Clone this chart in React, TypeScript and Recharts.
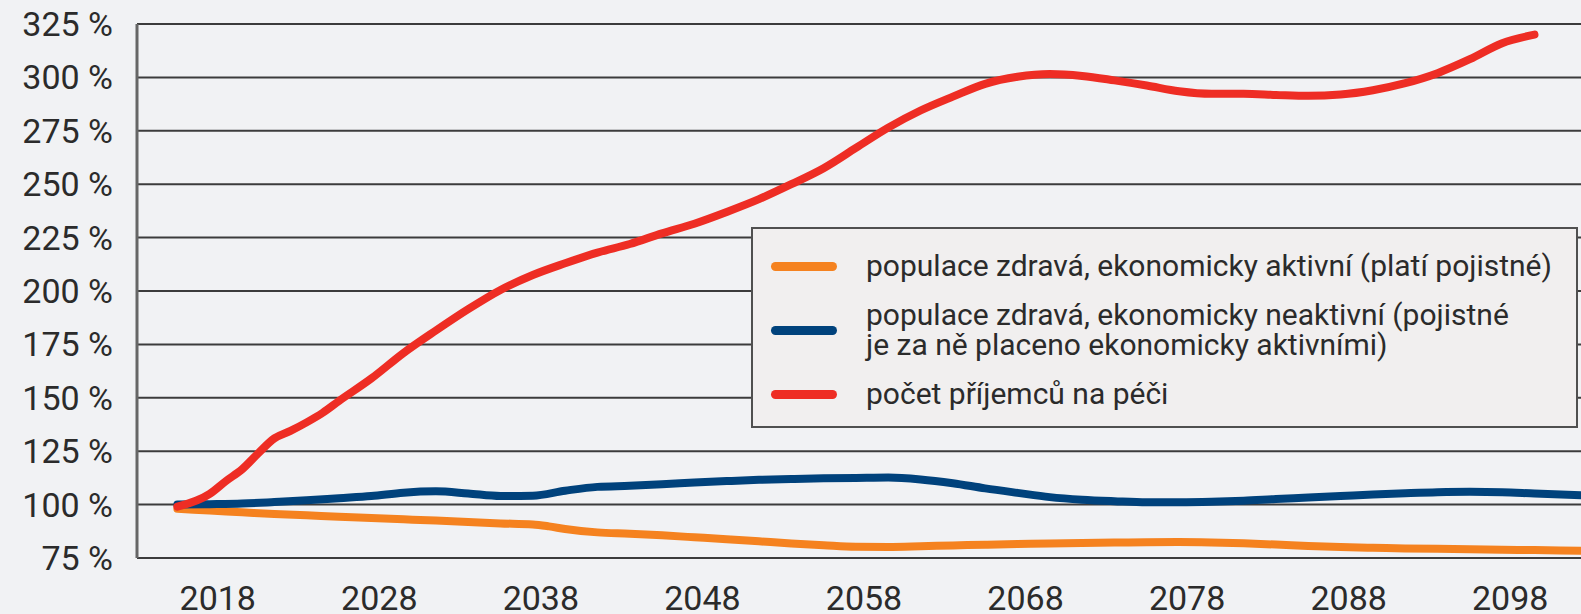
import React from 'react';
import { LineChart, Line, XAxis, YAxis, CartesianGrid, Legend } from 'recharts';

// ---- data ----
const redYears = [2016, 2018, 2019, 2020, 2021, 2022, 2023, 2024, 2025, 2026, 2028, 2030, 2032, 2034, 2036, 2038, 2040, 2042, 2044, 2046, 2048, 2050, 2052, 2054, 2056, 2058, 2060, 2062, 2064, 2066, 2068, 2070, 2072, 2074, 2076, 2078, 2080, 2082, 2084, 2086, 2088, 2090, 2092, 2094, 2096, 2098, 2100];
const redValues = [99, 105, 111, 116.5, 124, 131, 134.5, 138.5, 143, 148.5, 159, 171, 181.5, 191.5, 200.5, 207.5, 213, 218, 222, 227, 231.5, 237, 243, 250, 257.5, 267, 276.5, 284.5, 291, 297, 300.3, 301.6, 300.7, 298.6, 296.2, 293.5, 292.3, 292.3, 291.8, 291.4, 292, 294, 297.3, 302, 308.5, 316, 320];

const blueYears = [2016, 2018, 2020, 2022, 2024, 2026, 2028, 2030, 2032, 2034, 2036, 2038, 2040, 2042, 2044, 2046, 2048, 2050, 2052, 2054, 2056, 2058, 2060, 2062, 2064, 2066, 2068, 2070, 2072, 2074, 2076, 2078, 2080, 2082, 2084, 2086, 2088, 2090, 2092, 2094, 2096, 2098, 2100, 2103];
const blueValues = [100, 100.2, 100.5, 101.2, 102, 103, 104, 105.6, 106.2, 105.2, 104, 104.2, 106.5, 108.3, 108.8, 109.5, 110.3, 111, 111.6, 112, 112.3, 112.5, 112.7, 111.8, 110, 107.6, 105.5, 103.5, 102.3, 101.6, 101.1, 101.1, 101.3, 101.8, 102.6, 103.3, 104, 104.7, 105.3, 105.8, 106, 105.8, 105.2, 104.4];

const orangeYears = [2016, 2018, 2020, 2022, 2024, 2026, 2028, 2030, 2032, 2034, 2036, 2038, 2039, 2040, 2042, 2044, 2046, 2048, 2050, 2052, 2054, 2056, 2058, 2060, 2062, 2064, 2066, 2068, 2070, 2072, 2074, 2076, 2078, 2080, 2082, 2084, 2086, 2088, 2090, 2092, 2094, 2096, 2098, 2100, 2103];
const orangeValues = [98, 97.2, 96.4, 95.6, 95, 94.3, 93.7, 93.1, 92.5, 91.8, 91.2, 90.7, 89.8, 88.6, 87, 86.4, 85.6, 84.7, 83.8, 82.8, 81.8, 81, 80.3, 80.2, 80.5, 80.9, 81.2, 81.5, 81.8, 82, 82.2, 82.4, 82.5, 82.3, 81.9, 81.3, 80.6, 80.1, 79.8, 79.5, 79.3, 79.1, 78.9, 78.7, 78.4];

const xBandEdges = [2013.5, 2023.5, 2033.5, 2043.5, 2053.5, 2063.5, 2073.5, 2083.5, 2093.5, 2103.5];
const xLabels = ['2018', '2028', '2038', '2048', '2058', '2068', '2078', '2088', '2098'];
const yTicks = [75, 100, 125, 150, 175, 200, 225, 250, 275, 300, 325];

const seriesNames = [
  'populace zdravá, ekonomicky aktivní (platí pojistné)',
  'populace zdravá, ekonomicky neaktivní (pojistné\nje za ně placeno ekonomicky aktivními)',
  'počet příjemců na péči',
];
const seriesColors = ['#f5821f', '#00427c', '#ee2d24'];

const toRows = (years: number[], values: number[]) => years.map((year, i) => ({ year, v: values[i] }));
const orangeData = toRows(orangeYears, orangeValues);
const blueData = toRows(blueYears, blueValues);
const redData = toRows(redYears, redValues);
const labelTicks = xLabels.map((_, i) => (xBandEdges[i] + xBandEdges[i + 1]) / 2);

const FONT = 'Roboto, "Liberation Sans", sans-serif';
const TEXT = '#2b2b2b';

const LegendBox = () => (
  <div
    style={{
      boxSizing: 'border-box',
      width: 827,
      height: 201,
      border: '2px solid #505050',
      background: '#f1efef',
      paddingTop: 22,
      fontFamily: FONT,
      fontSize: 30,
      lineHeight: '30px',
      color: TEXT,
      textAlign: 'left',
    }}
  >
    {seriesNames.map((name, i) => (
      <div
        key={name}
        style={{
          display: 'flex',
          alignItems: 'center',
          marginBottom: 19,
        }}
      >
        <div
          style={{
            width: 66,
            height: 9,
            borderRadius: 5,
            background: seriesColors[i],
            marginLeft: 18,
            marginRight: 29,
            flex: 'none',
          }}
        />
        <div style={{ whiteSpace: 'pre' }}>{name}</div>
      </div>
    ))}
  </div>
);

export default function App() {
  return (
    <div
      style={{
        position: 'absolute',
        left: 0,
        top: 0,
        width: 1581,
        height: 614,
        overflow: 'hidden',
        background: '#f1f2f4',
        fontFamily: FONT,
      }}
    >
      <LineChart width={1600} height={614} margin={{ top: 24, right: 9, left: 0, bottom: 0 }}>
        <CartesianGrid vertical={false} stroke="#3c3c3c" strokeWidth={2} />
        <XAxis
          xAxisId="grid"
          type="number"
          dataKey="year"
          domain={[2013.5, 2103.5]}
          ticks={xBandEdges}
          allowDataOverflow
          height={14}
          tick={false}
          tickSize={13}
          tickLine={{ stroke: '#555', strokeWidth: 2 }}
          axisLine={{ stroke: '#3c3c3c', strokeWidth: 2 }}
        />
        <XAxis
          xAxisId="labels"
          type="number"
          dataKey="year"
          domain={[2013.5, 2103.5]}
          ticks={labelTicks}
          allowDataOverflow
          height={42}
          axisLine={false}
          tickLine={false}
          tickSize={0}
          tickMargin={14}
          interval={0}
          tickFormatter={(v: number, i: number) => xLabels[i]}
          tick={{ fill: TEXT, fontSize: 34, fontFamily: FONT }}
        />
        <YAxis
          type="number"
          domain={[75, 325]}
          ticks={yTicks}
          width={137}
          interval={0}
          tickLine={false}
          tickSize={0}
          tickMargin={24}
          axisLine={{ stroke: '#666', strokeWidth: 3 }}
          tickFormatter={(v: number) => `${v} %`}
          tick={{ fill: TEXT, fontSize: 34, fontFamily: FONT }}
        />
        <Legend
          layout="vertical"
          verticalAlign="middle"
          align="center"
          content={() => <LegendBox />}
          wrapperStyle={{ left: 751, top: 227, width: 827, height: 201 }}
        />
        <Line
          xAxisId="grid"
          data={orangeData}
          dataKey="v"
          name={seriesNames[0]}
          type="monotone"
          stroke={seriesColors[0]}
          strokeWidth={8}
          strokeLinecap="round"
          dot={false}
          isAnimationActive={false}
        />
        <Line
          xAxisId="grid"
          data={blueData}
          dataKey="v"
          name={seriesNames[1]}
          type="monotone"
          stroke={seriesColors[1]}
          strokeWidth={8}
          strokeLinecap="round"
          dot={false}
          isAnimationActive={false}
        />
        <Line
          xAxisId="grid"
          data={redData}
          dataKey="v"
          name={seriesNames[2]}
          type="monotone"
          stroke={seriesColors[2]}
          strokeWidth={8}
          strokeLinecap="round"
          dot={false}
          isAnimationActive={false}
        />
      </LineChart>
    </div>
  );
}
